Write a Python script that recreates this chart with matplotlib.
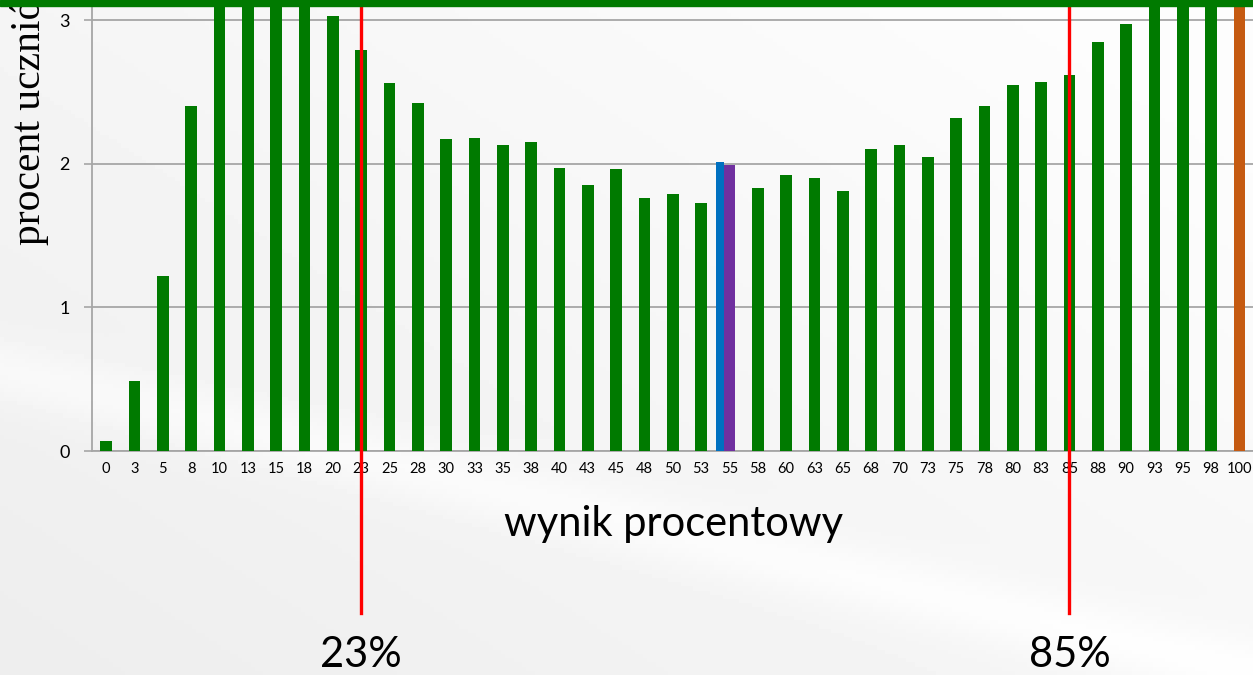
import numpy as np
import matplotlib.pyplot as plt
import matplotlib.transforms as mtransforms
from matplotlib.patches import Rectangle

# wyniki procentowe (kategorie osi X)
scores = ['0', '3', '5', '8', '10', '13', '15', '18', '20', '23', '25', '28', '30', '33',
          '35', '38', '40', '43', '45', '48', '50', '53', '55', '58', '60', '63', '65',
          '68', '70', '73', '75', '78', '80', '83', '85', '88', '90', '93', '95', '98', '100']
# procent uczniow (slupki powyzej 3.14 sa uciete w oryginale)
pct = [0.07, 0.49, 1.22, 2.40, 3.40, 3.60, 3.50, 3.30, 3.03, 2.79, 2.56, 2.42, 2.17, 2.18,
       2.13, 2.15, 1.97, 1.85, 1.96, 1.76, 1.79, 1.73, 1.99, 1.83, 1.92, 1.90, 1.81,
       2.10, 2.13, 2.05, 2.32, 2.40, 2.55, 2.57, 2.62, 2.85, 2.97, 3.20, 3.40, 3.60, 4.50]
median_pct = 2.01          # dodatkowy waski slupek przy 55
median_score = '55'
cut_low = '23'
cut_high = '85'
cut_labels = ['23%', '85%']

GREEN = '#007a00'
colors = [GREEN] * len(scores)
colors[scores.index('55')] = '#7030a0'
colors[scores.index('100')] = '#c55a11'

W, H = 1253, 675
fig = plt.figure(figsize=(W / 100, H / 100), dpi=100)

# tlo slajdu - jasny szary gradient
bg = fig.add_axes([0, 0, 1, 1], zorder=-10)
gx, gy = np.meshgrid(np.linspace(0, 1, 300), np.linspace(0, 1, 160))
grad = 0.93 + 0.06 * np.clip(0.6 * gx + 0.5 * (1 - gy), 0, 1)
band = 0.03 * np.exp(-((gy - 0.55 - 0.45 * gx) / 0.05) ** 2)
bg.imshow(np.clip(grad + band, 0, 1), cmap='gray', vmin=0, vmax=1, aspect='auto',
          extent=[0, 1, 0, 1], origin='upper')
bg.axis('off')

ax = fig.add_axes([92 / W, 224 / H, 1163 / W, 451 / H])
ax.patch.set_alpha(0)
x = np.arange(len(scores))
ax.bar(x, pct, width=0.41, color=colors, zorder=3)
i55 = scores.index(median_score)
ax.bar(i55 - 0.345, median_pct, width=0.28, color='#0070c0', zorder=3)

ax.set_xlim(-0.5, len(scores) - 0.45)
ax.set_ylim(0, 3.14)
ax.set_yticks([0, 1, 2, 3])
ax.set_xticks(x)
ax.set_xticklabels(scores, fontsize=10.5, family='Lato')
ax.tick_params(axis='x', length=0, pad=8)
ax.tick_params(axis='y', length=6, width=1.2, color='#a6a6a6', labelsize=13, pad=10)
for t in ax.get_yticklabels():
    t.set_family('Lato')
ax.grid(axis='y', color='#a6a6a6', lw=1.3, zorder=1)
for s in ['top', 'right']:
    ax.spines[s].set_visible(False)
ax.spines['left'].set_color('#a6a6a6')
ax.spines['bottom'].set_color('#a6a6a6')
ax.spines['left'].set_linewidth(1.3)
ax.spines['bottom'].set_linewidth(1.3)

ax.set_xlabel('wynik procentowy', fontsize=30, family='Lato')
ax.xaxis.set_label_coords(0.5, -0.12)
fig.text(30 / W, 1 - 245 / H, 'procent uczniów', rotation=90, ha='center', va='bottom',
         fontsize=30, family='Liberation Serif')

# zielony pasek na gorze slajdu
fig.add_artist(Rectangle((0, 1 - 6 / H), 1, 6 / H, transform=fig.transFigure,
                         color=GREEN, zorder=20))

# czerwone linie progow
tr = mtransforms.blended_transform_factory(ax.transData, fig.transFigure)
for sc, lab in zip([cut_low, cut_high], cut_labels):
    xi = scores.index(sc)
    ax.plot([xi, xi], [62 / H, 1], color='#ff0000', lw=2.4, transform=tr, clip_on=False, zorder=10)
    ax.text(xi, 20 / H, lab, transform=tr, ha='center', va='center', fontsize=30, family='Lato')

fig.savefig('out.png', dpi=100)
